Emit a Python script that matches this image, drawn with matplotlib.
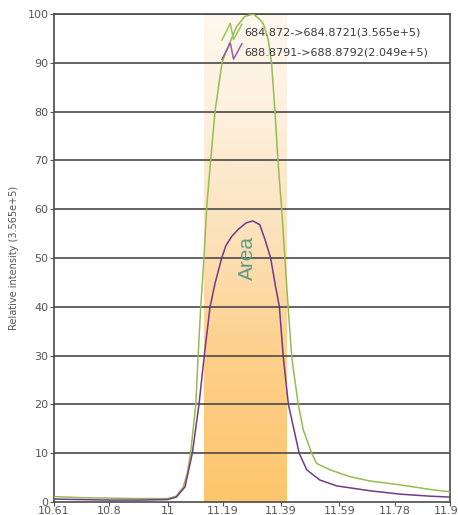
import numpy as np
import matplotlib
matplotlib.use("Agg")
import matplotlib.pyplot as plt
from matplotlib.colors import LinearSegmentedColormap
from matplotlib.legend_handler import HandlerBase
from matplotlib.lines import Line2D

# retention time (min) / relative intensity (%) for the two transitions
t_green = [10.61, 10.70, 10.80, 10.90, 11.00, 11.03, 11.054, 11.068, 11.079,
           11.097, 11.105, 11.114, 11.125, 11.134, 11.148, 11.163, 11.187,
           11.203, 11.237, 11.265, 11.294, 11.315, 11.329, 11.346, 11.357,
           11.369, 11.379, 11.392, 11.403, 11.414, 11.426, 11.437, 11.449,
           11.466, 11.495, 11.512, 11.558, 11.626, 11.695, 11.80, 11.91, 11.97]
green = [1.1, 0.9, 0.8, 0.7, 0.7, 1.2, 3.1, 6, 10,
         20, 30, 40, 50, 60, 70, 80, 90,
         92.6, 97.4, 99.5, 100, 99, 98, 94.7, 90,
         80, 70, 60, 50, 40, 30, 25, 20,
         14.8, 10, 7.9, 6.6, 5.2, 4.3, 3.5, 2.5, 2.1]

t_purple = [10.61, 10.70, 10.80, 10.90, 11.00, 11.03, 11.06, 11.085, 11.108,
            11.126, 11.146, 11.163, 11.186, 11.20, 11.22, 11.245, 11.27,
            11.293, 11.317, 11.335, 11.354, 11.369, 11.384, 11.397, 11.415,
            11.452, 11.478, 11.523, 11.581, 11.627, 11.695, 11.80, 11.90, 11.97]
purple = [0.6, 0.5, 0.4, 0.4, 0.5, 1.0, 3.1, 10, 20,
          30, 40, 44.8, 50, 52.5, 54.4, 56, 57.2,
          57.6, 56.8, 53.7, 50, 44.8, 40, 30, 20,
          10, 6.6, 4.5, 3.3, 2.9, 2.3, 1.6, 1.2, 1.0]

labels = ["684.872->684.8721(3.565e+5)", "688.8791->688.8792(2.049e+5)"]
area_start, area_end = 11.125, 11.41

xticks = [10.61, 10.8, 11, 11.19, 11.39, 11.59, 11.78, 11.97]
xticklabels = ["10.61", "10.8", "11", "11.19", "11.39", "11.59", "11.78", "11.97"]
yticks = list(range(0, 101, 10))

GREEN = "#97bb52"
PURPLE = "#6f3a86"


class ZigzagHandler(HandlerBase):
    """Little chromatogram-style 'N' glyph used as legend key."""

    def __init__(self, color):
        super().__init__()
        self.color = color

    def create_artists(self, legend, orig_handle, xdescent, ydescent,
                       width, height, fontsize, trans):
        x0, y0 = -xdescent, -ydescent
        xs = [x0, x0 + 0.42 * width, x0 + 0.58 * width, x0 + width]
        ys = [y0 - 0.45 * height, y0 + 1.5 * height,
              y0 - 0.4 * height, y0 + 1.4 * height]
        line = Line2D(xs, ys, color=self.color, lw=1.1, transform=trans)
        return [line]


fig = plt.figure(figsize=(4.58, 5.15), dpi=100)
ax = fig.add_axes([54 / 458, 13 / 515, 396 / 458, 488 / 515])

# integrated region, orange fading to cream towards the top
band_cmap = LinearSegmentedColormap.from_list(
    "band", [(0.0, "#fec66c"), (0.3, "#fdcf8a"), (0.55, "#fce2bc"),
             (0.8, "#fdf0dd"), (1.0, "#fef8ef")])
grad = np.linspace(0, 1, 256).reshape(-1, 1)
ax.imshow(grad, cmap=band_cmap, origin="lower", aspect="auto",
          extent=[area_start, area_end, 0, 100], zorder=0, interpolation="bilinear")

for y in yticks[1:]:
    ax.axhline(y, color="#4a4a4a", lw=1.2, zorder=1)

h1, = ax.plot(t_green, green, color=GREEN, lw=1.1, zorder=3)
h2, = ax.plot(t_purple, purple, color=PURPLE, lw=1.1, zorder=3)

ax.text(11.273, 50, "Area", rotation=90, color="#5a9c86", fontsize=15,
        family="Liberation Sans", ha="center", va="center", zorder=4)

ax.set_xlim(10.61, 11.97)
ax.set_ylim(0, 100)
ax.set_xticks(xticks)
ax.set_xticklabels(xticklabels)
ax.set_yticks(yticks)
ax.tick_params(axis="both", colors="#555555", labelsize=8, length=3, width=0.8, pad=1)
ax.tick_params(axis="x", pad=0)
for s in ax.spines.values():
    s.set_color("#4a4a4a")
    s.set_linewidth(1.2)

ax.set_ylabel("Relative intensity (3.565e+5)", fontsize=7, color="#555555", labelpad=6)

leg = ax.legend([h1, h2], labels, loc="upper left",
                bbox_to_anchor=(0.424, 0.972), frameon=False, fontsize=8,
                handlelength=1.8, handleheight=0.8, handletextpad=0.25,
                labelspacing=0.85, borderpad=0, borderaxespad=0,
                handler_map={h1: ZigzagHandler("#9cc35a"),
                             h2: ZigzagHandler("#9b5aa5")})
for txt in leg.get_texts():
    txt.set_color("#3a3a3a")
leg.set_zorder(5)

fig.savefig("out.png", dpi=100)
